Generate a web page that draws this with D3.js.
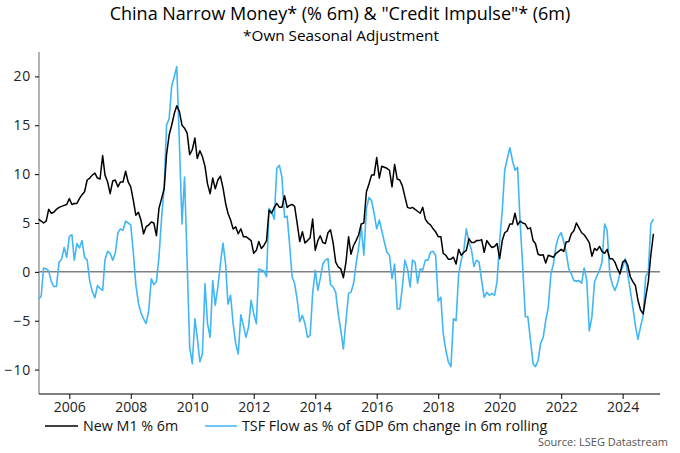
<!DOCTYPE html>
<html>
<head>
<meta charset="utf-8">
<script src="https://cdn.jsdelivr.net/npm/d3@7"></script>
<style>
  html, body { margin: 0; padding: 0; background: #fff; }
  svg { display: block; }
  text { font-family: "Open Sans", "Noto Sans", sans-serif; }
</style>
</head>
<body>
<svg id="chart" width="680" height="453"></svg>
<script>
// ---- Data (monthly, Jan 2005 .. Jan 2025) ----
const startYear = 2005;
const seriesNames = ["New M1 % 6m", "TSF Flow as % of GDP 6m change in 6m rolling"];
const yTickValues = [-10, -5, 0, 5, 10, 15, 20];
const xTickYears = [2006, 2008, 2010, 2012, 2014, 2016, 2018, 2020, 2022, 2024];

const m1Values = [
5.4,5.2,5.0,5.2,6.4,6.0,6.1,6.4,6.6,6.7,
6.8,6.9,7.5,6.9,7.0,7.0,7.5,7.9,8.2,9.4,
9.6,9.9,10.1,9.6,9.5,11.9,9.9,9.2,8.0,9.3,
9.4,8.7,9.2,9.2,10.3,9.2,8.7,7.3,5.8,6.1,
5.3,3.9,4.6,4.8,5.1,5.0,3.7,6.5,7.5,8.5,
12.0,14.0,15.0,16.2,17.0,16.4,15.0,14.7,14.2,12.0,
12.5,13.7,11.6,12.4,11.8,10.8,9.0,8.0,9.6,8.5,
9.4,9.8,8.6,7.0,6.0,5.3,4.4,4.6,3.9,4.4,
3.6,3.6,3.4,3.2,1.9,2.2,3.1,2.4,2.7,3.2,
6.3,6.0,6.6,7.0,6.6,6.6,7.8,6.6,6.8,6.9,
6.7,4.9,3.1,4.1,2.95,3.2,3.5,5.4,2.2,3.2,
3.7,3.0,2.9,4.0,4.3,3.0,1.0,0.5,0.3,-0.6,
1.0,3.6,1.8,2.7,3.2,3.8,4.9,5.0,8.2,9.0,
9.9,9.9,11.7,9.6,10.8,10.7,10.6,10.4,8.7,11.0,
9.5,9.4,8.8,7.7,6.6,6.5,6.6,6.4,6.2,6.0,
6.6,5.4,5.0,4.8,4.4,4.1,3.6,3.6,1.9,1.7,
1.3,1.3,1.5,0.8,2.3,1.7,2.0,2.2,3.4,3.0,
3.0,3.2,3.2,3.3,2.0,3.2,2.8,2.5,2.6,2.9,
1.35,3.2,4.0,4.2,4.9,4.9,6.0,4.8,5.2,5.0,
4.9,4.4,4.5,3.2,2.9,1.8,1.7,1.75,0.9,1.7,
1.6,1.5,1.9,2.1,2.3,2.1,3.05,3.1,3.9,4.2,
5.0,4.5,4.0,3.8,3.4,3.0,1.6,2.4,2.2,2.6,
2.1,1.9,2.3,1.35,1.35,1.0,0.3,-0.2,1.0,1.2,
0.7,-0.5,-1.0,-1.4,-2.9,-3.9,-4.3,-2.6,-1.0,1.7,
3.9
];

const tsfValues = [
-2.8,-2.5,0.4,0.3,0.1,-1.0,-1.5,-1.5,1.0,1.3,
2.5,1.5,3.6,3.8,1.2,2.9,2.45,3.2,1.5,1.2,
-1.0,-2.0,-2.65,-1.4,-1.7,-1.9,1.25,2.1,1.9,1.2,
1.9,4.0,4.4,4.25,5.2,5.0,4.8,1.9,-1.3,-3.2,
-4.2,-4.8,-5.3,-4.0,-0.7,-1.3,-1.0,1.5,5.5,8.7,
15.0,15.7,19.0,20.0,21.0,13.1,4.9,9.7,1.0,-7.7,
-9.4,-4.8,-6.7,-9.2,-8.4,-1.2,-5.3,-6.7,-0.9,-3.4,
-1.55,0.8,2.95,0.8,-3.3,-2.4,-5.3,-7.35,-8.4,-4.4,
-5.5,-6.7,-5.6,-2.9,-4.3,-5.3,0.3,0.2,0.1,-0.5,
6.5,6.1,5.4,10.6,10.9,9.7,5.6,5.7,2.9,-0.5,
-1.2,-2.9,-5.1,-4.45,-5.3,-6.7,-6.5,-2.2,0.15,-1.9,
-0.7,0.8,1.2,1.35,-1.3,-1.55,-2.1,-4.3,-6.0,-7.9,
-5.0,-2.2,-2.1,-1.2,0.8,2.5,4.6,1.7,6.5,7.6,
7.3,6.0,4.4,5.3,4.25,3.05,2.0,1.7,-0.7,0.8,
-3.8,-3.8,-1.55,1.2,0.3,-1.55,1.2,1.0,-1.15,0.3,
0.2,1.2,1.2,2.0,2.1,1.7,-3.0,-2.6,-6.3,-8.0,
-9.2,-9.7,-4.8,-5.0,-0.2,1.2,2.2,4.4,3.05,2.2,
0.55,1.2,1.0,-0.9,-2.6,-2.1,-2.4,-2.2,-2.4,-1.0,
3.2,6.3,10.4,11.6,12.7,11.4,10.4,10.7,4.9,0.5,
-4.6,-4.6,-7.0,-9.4,-9.7,-9.1,-7.35,-6.7,-5.0,-3.6,
-0.2,0.8,2.7,3.6,4.0,3.05,2.0,0.3,-0.2,-0.9,
-0.95,-0.9,-1.15,0.4,-0.9,-6.05,-4.6,-1.0,-0.45,0.15,
1.0,4.9,4.25,-0.2,-1.3,-1.9,-1.2,-0.1,0.5,1.35,
-0.2,-1.9,-3.6,-5.5,-6.9,-5.6,-4.45,-0.5,0.0,4.9,
5.4
];

// ---- Build table ----
const dates = m1Values.map((_, i) => new Date(Date.UTC(startYear, i, 1)));
const m1Data = m1Values.map((v, i) => ({ date: dates[i], value: v }));
const tsfData = tsfValues.map((v, i) => ({ date: dates[i], value: v }));

const svg = d3.select("#chart");
const plot = { left: 39, right: 660, top: 52, bottom: 394 };

const x = d3.scaleUtc()
  .domain([new Date(Date.UTC(2005, 0, 1)), new Date(Date.UTC(2025, 2, 20))])
  .range([38.6, plot.right]);
const y = d3.scaleLinear().domain([-12.5, 22.5]).range([plot.bottom, plot.top]);

// Titles
svg.append("text").attr("x", 340).attr("y", 19.5).attr("text-anchor", "middle")
  .attr("font-size", 18).attr("fill", "#000")
  .text('China Narrow Money* (% 6m) & "Credit Impulse"* (6m)');
svg.append("text").attr("x", 341).attr("y", 41).attr("text-anchor", "middle")
  .attr("font-size", 15.3).attr("fill", "#000")
  .text("*Own Seasonal Adjustment");

// Zero line
svg.append("line")
  .attr("x1", plot.left).attr("x2", plot.right)
  .attr("y1", y(0)).attr("y2", y(0))
  .attr("stroke", "#808080").attr("stroke-width", 1.5);

// Y axis
const yAxis = d3.axisLeft(y).tickValues(yTickValues).tickSize(4).tickPadding(4)
  .tickFormat(d3.format("d"));
const gy = svg.append("g").attr("transform", `translate(${plot.left},0)`).call(yAxis);
gy.select(".domain").attr("d", `M0,${plot.top}V${plot.bottom}`).attr("stroke", "#808080").attr("stroke-width", 1.2);
gy.selectAll(".tick line").attr("stroke", "#000");
gy.selectAll(".tick text").attr("font-size", 14).attr("fill", "#222")
  .style("font-family", '"Open Sans", sans-serif').attr("letter-spacing", 0.8);

// X axis
const xAxis = d3.axisBottom(x)
  .tickValues(xTickYears.map(yr => new Date(Date.UTC(yr, 0, 1))))
  .tickSize(5).tickPadding(3).tickFormat(d3.utcFormat("%Y"));
const gx = svg.append("g").attr("transform", `translate(0,${plot.bottom})`).call(xAxis);
gx.select(".domain").attr("d", `M${plot.left},0H${plot.right}`).attr("stroke", "#000").attr("stroke-width", 1.2);
gx.selectAll(".tick line").attr("stroke", "#000");
gx.selectAll(".tick text").attr("font-size", 14).attr("fill", "#222")
  .style("font-family", '"Open Sans", sans-serif');

// Lines
const line = d3.line().x(d => x(d.date)).y(d => y(d.value));
svg.append("path").datum(tsfData).attr("d", line)
  .attr("fill", "none").attr("stroke", "#41B6F5").attr("stroke-width", 1.6)
  .attr("stroke-linejoin", "round");
svg.append("path").datum(m1Data).attr("d", line)
  .attr("fill", "none").attr("stroke", "#000").attr("stroke-width", 1.5)
  .attr("stroke-linejoin", "round");

// Legend
const legend = svg.append("g");
const legendItems = [
  { name: seriesNames[0], color: "#000", x1: 45, x2: 78 },
  { name: seriesNames[1], color: "#41B6F5", x1: 205, x2: 237 }
];
legendItems.forEach(it => {
  legend.append("line").attr("x1", it.x1).attr("x2", it.x2).attr("y1", 426).attr("y2", 426)
    .attr("stroke", it.color).attr("stroke-width", 1.5);
  legend.append("text").attr("x", it.x2 + 5).attr("y", 431).attr("font-size", 14.3)
    .attr("fill", "#111").text(it.name);
});

// Source
svg.append("text").attr("x", 668).attr("y", 446).attr("text-anchor", "end")
  .attr("font-size", 11).attr("fill", "#555").text("Source: LSEG Datastream");
</script>
</body>
</html>
